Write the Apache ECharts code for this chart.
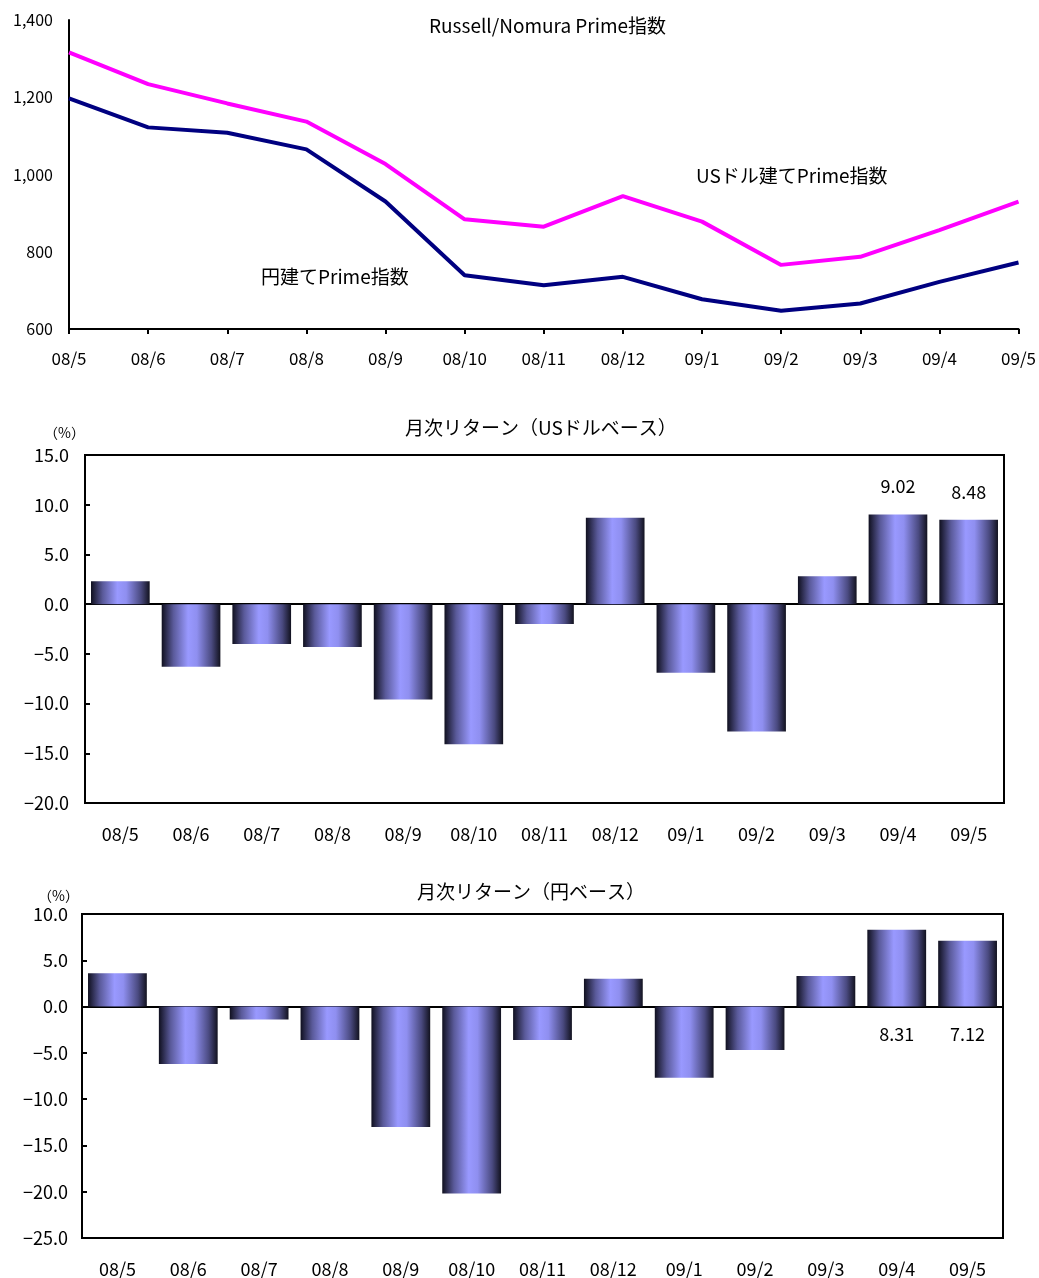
<!DOCTYPE html>
<html>
<head>
<meta charset="utf-8">
<script src="https://cdn.jsdelivr.net/npm/echarts@6/dist/echarts.min.js"></script>
<style>
  html, body { margin: 0; padding: 0; background: #fff; }
  #chart { width: 1039px; height: 1278px; }
</style>
</head>
<body>
<div id="chart"></div>
<script>
// 月 ラベル
const months = ['08/5', '08/6', '08/7', '08/8', '08/9', '08/10', '08/11', '08/12', '09/1', '09/2', '09/3', '09/4', '09/5']

// Prime指数
const usdIndex = [1316, 1234, 1184, 1137, 1027, 884, 865, 944, 878, 766, 787, 856, 930]
const jpyIndex = [1197, 1122, 1108, 1065, 930, 739, 713, 735, 677, 647, 666, 722, 772]

// 月次リターン
const usdReturn = [2.3, -6.3, -4.0, -4.3, -9.6, -14.1, -2.0, 8.7, -6.9, -12.8, 2.8, 9.02, 8.48]
const jpyReturn = [3.6, -6.2, -1.4, -3.6, -13.0, -20.2, -3.6, 3.0, -7.7, -4.7, 3.3, 8.31, 7.12]

// 数値ラベルを付ける月
const labeledMonths = ['09/4', '09/5']

const FONT = '"Noto Sans CJK JP", "Noto Sans", sans-serif'

const barGradient = new echarts.graphic.LinearGradient(0, 0, 1, 0, [
  { offset: 0, color: '#10101f' },
  { offset: 0.2, color: '#5a5a9a' },
  { offset: 0.45, color: '#9999ff' },
  { offset: 0.6, color: '#8f8ff0' },
  { offset: 0.85, color: '#4a4a80' },
  { offset: 1, color: '#12121f' }
])

function barData(values) {
  return values.map((v, i) => ({
    value: v,
    label: { show: labeledMonths.includes(months[i]) }
  }))
}

// マイナスは全角風の記号で
function fmtPct(v) {
  return (v < 0 ? '−' : '') + Math.abs(v).toFixed(1)
}

const chart = echarts.init(document.getElementById('chart'))

const axisText = { color: '#000', fontSize: 18, fontFamily: FONT }
const titleText = { fontSize: 19, fontWeight: 'normal', color: '#000', fontFamily: FONT }

const option = {
  animation: false,
  backgroundColor: '#fff',
  textStyle: { fontFamily: FONT },
  title: [
    { text: 'Russell/Nomura Prime指数', left: 424, top: 11, textStyle: titleText },
    { text: '月次リターン（USドルベース）', left: 400, top: 413, textStyle: titleText },
    { text: '月次リターン（円ベース）', left: 412, top: 877, textStyle: titleText }
  ],
  graphic: [
    { type: 'text', left: 696, top: 166, style: { text: 'USドル建てPrime指数', font: '19px ' + FONT, fill: '#000' } },
    { type: 'text', left: 261, top: 267, style: { text: '円建てPrime指数', font: '19px ' + FONT, fill: '#000' } },
    { type: 'text', left: 44, top: 426, style: { text: '（%）', font: '14px ' + FONT, fill: '#000' } },
    { type: 'text', left: 38, top: 889, style: { text: '（%）', font: '14px ' + FONT, fill: '#000' } }
  ],
  grid: [
    { left: 69, right: 20, top: 20, height: 309 },
    { left: 85, right: 35, top: 455, height: 348, show: true, borderColor: '#000', borderWidth: 2, backgroundColor: 'transparent' },
    { left: 82, right: 36, top: 914, height: 324, show: true, borderColor: '#000', borderWidth: 2, backgroundColor: 'transparent' }
  ],
  xAxis: [
    {
      type: 'category', gridIndex: 0, data: months, boundaryGap: false,
      axisLine: { lineStyle: { color: '#000', width: 2 } },
      axisTick: { length: 5, lineStyle: { color: '#000', width: 2 } },
      axisLabel: { ...axisText, fontSize: 17, margin: 21 }
    },
    // 0ライン（目盛のみ）
    {
      type: 'category', gridIndex: 1, data: months,
      axisLine: { onZero: true, lineStyle: { color: '#000', width: 2 } },
      axisTick: { inside: true, length: 4, lineStyle: { color: '#000', width: 2 } },
      axisLabel: { show: false }
    },
    {
      type: 'category', gridIndex: 1, data: months, position: 'bottom',
      axisLine: { show: false, onZero: false }, axisTick: { show: false },
      axisLabel: { ...axisText, margin: 22 }
    },
    {
      type: 'category', gridIndex: 2, data: months,
      axisLine: { onZero: true, lineStyle: { color: '#000', width: 2 } },
      axisTick: { inside: true, length: 4, lineStyle: { color: '#000', width: 2 } },
      axisLabel: { show: false }
    },
    {
      type: 'category', gridIndex: 2, data: months, position: 'bottom',
      axisLine: { show: false, onZero: false }, axisTick: { show: false },
      axisLabel: { ...axisText, margin: 22 }
    }
  ],
  yAxis: [
    {
      type: 'value', gridIndex: 0, min: 600, max: 1400, interval: 200,
      axisLine: { show: true, lineStyle: { color: '#000', width: 2 } },
      axisTick: { show: false },
      splitLine: { show: false },
      axisLabel: { ...axisText, fontSize: 16, margin: 16, formatter: v => v.toLocaleString('en-US') }
    },
    {
      type: 'value', gridIndex: 1, min: -20, max: 15, interval: 5,
      axisLine: { show: true, lineStyle: { color: '#000', width: 2 } },
      axisTick: { show: true, inside: true, length: 5, lineStyle: { color: '#000', width: 2 } },
      splitLine: { show: false },
      axisLabel: { ...axisText, margin: 16, formatter: fmtPct }
    },
    {
      type: 'value', gridIndex: 2, min: -25, max: 10, interval: 5,
      axisLine: { show: true, lineStyle: { color: '#000', width: 2 } },
      axisTick: { show: true, inside: true, length: 5, lineStyle: { color: '#000', width: 2 } },
      splitLine: { show: false },
      axisLabel: { ...axisText, margin: 14, formatter: fmtPct }
    }
  ],
  series: [
    {
      name: 'USドル建てPrime指数', type: 'line', xAxisIndex: 0, yAxisIndex: 0,
      data: usdIndex, symbol: 'none',
      lineStyle: { color: '#ff00ff', width: 4 }
    },
    {
      name: '円建てPrime指数', type: 'line', xAxisIndex: 0, yAxisIndex: 0,
      data: jpyIndex, symbol: 'none',
      lineStyle: { color: '#000080', width: 4 }
    },
    {
      name: '月次リターン（USドルベース）', type: 'bar', xAxisIndex: 1, yAxisIndex: 1,
      data: barData(usdReturn), barCategoryGap: '17%',
      itemStyle: { color: barGradient },
      label: { position: 'top', distance: 19, color: '#000', fontSize: 18, fontFamily: FONT, formatter: p => p.value.toFixed(2) }
    },
    {
      name: '月次リターン（円ベース）', type: 'bar', xAxisIndex: 3, yAxisIndex: 2,
      data: barData(jpyReturn), barCategoryGap: '17%',
      itemStyle: { color: barGradient },
      label: { position: 'bottom', distance: 19, color: '#000', fontSize: 18, fontFamily: FONT, formatter: p => p.value.toFixed(2) }
    }
  ]
}

chart.setOption(option)
</script>
</body>
</html>
